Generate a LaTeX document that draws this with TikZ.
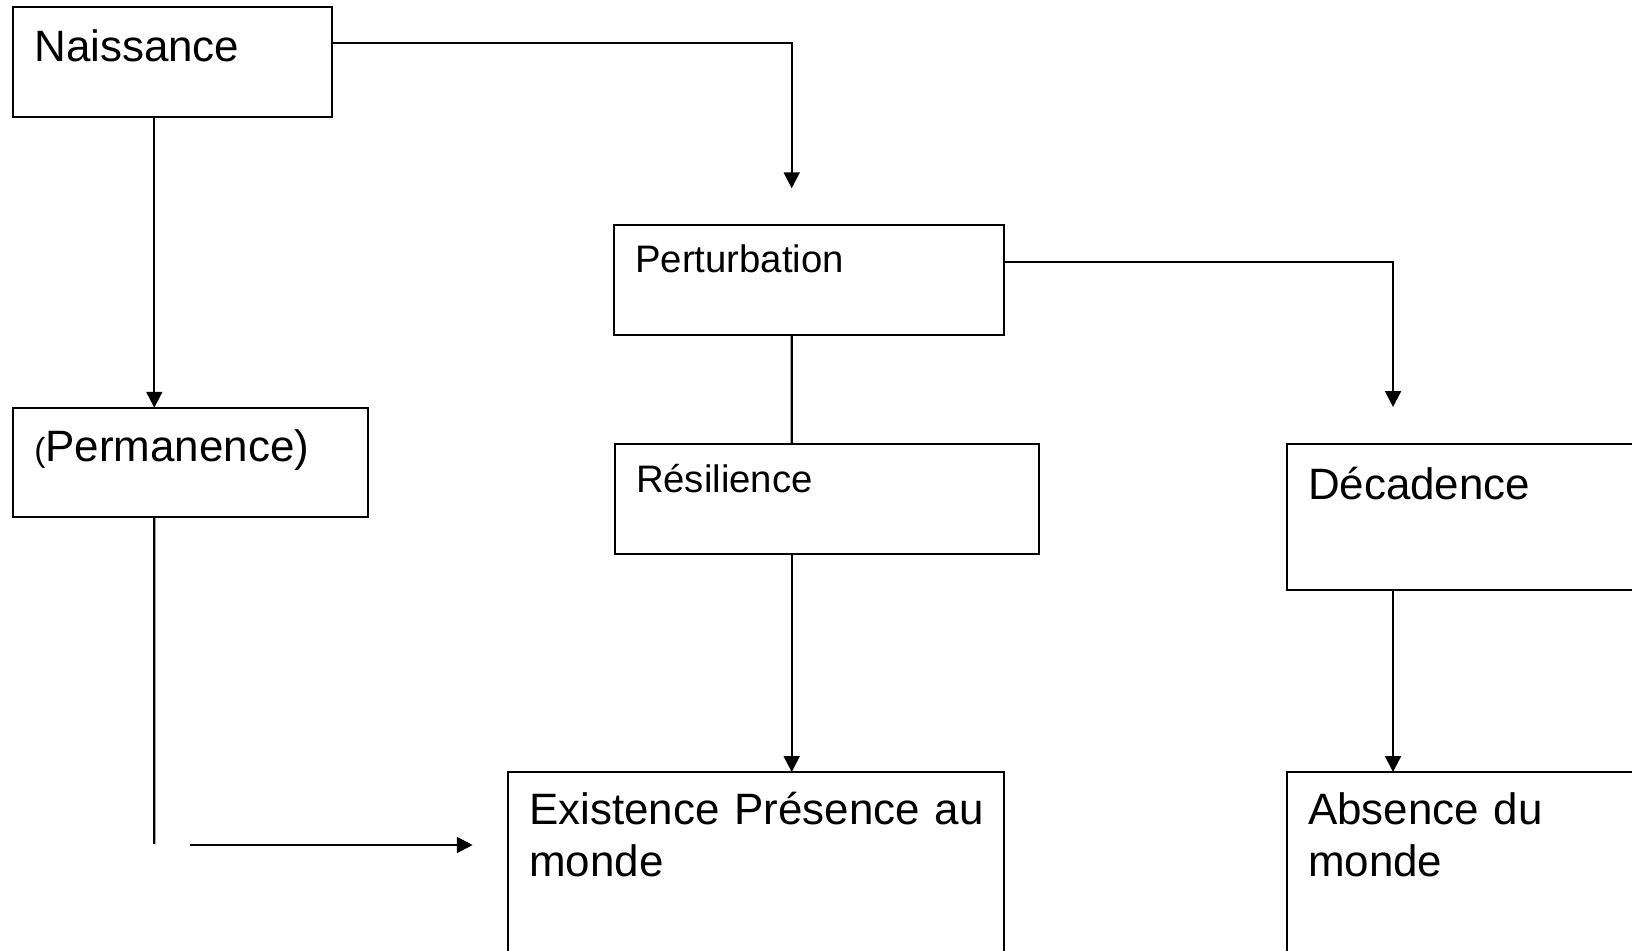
\documentclass[tikz,border=0pt]{standalone}
\usepackage{fontspec}
\setmainfont{Liberation Sans}
\usepackage{tikz}
\usetikzlibrary{arrows.meta, positioning}

\newcommand{\bigtxt}{\fontsize{12.5}{14.8}\selectfont}
\newcommand{\smalltxt}{\fontsize{10.9}{13}\selectfont}

\begin{document}
\begin{tikzpicture}[
    line width=0.6pt,
    >={Triangle[length=4.5pt, width=4.5pt]},
    box/.style={draw, rectangle, anchor=north west, align=left,
                inner xsep=0.21cm, inner ysep=0pt, outer sep=0pt, font=\bigtxt},
    smallbox/.style={box, font=\smalltxt}
]
  \useasboundingbox (0,0) rectangle (16.32,-9.51);

  % Boxes
  \node[box, text width=2.764cm, text height=0.55cm, text depth=0.55cm]
    (nais) at (0.133,-0.067) {Naissance};
  \node[box, text width=3.124cm, text height=0.54cm, text depth=0.553cm]
    (perm) at (0.133,-4.077) {{\fontsize{9.5}{12}\selectfont(}Permanence)};
  \node[smallbox, text width=3.48cm, text height=0.477cm, text depth=0.623cm]
    (pert) at (6.143,-2.25) {Perturbation};
  \node[smallbox, text width=3.82cm, text height=0.49cm, text depth=0.61cm]
    (resil) at (6.15,-4.44) {Résilience};
  \node[box, text width=3.58cm, text height=0.556cm, text depth=0.904cm]
    (deca) at (12.87,-4.44) {Décadence};
  \node[box, text width=4.54cm, text height=0.52cm, text depth=1.5cm]
    (exist) at (5.083,-7.72) {\mbox{Existence Présence au}\\monde};
  \node[box, text width=3.58cm, text height=0.52cm, text depth=1.5cm]
    (absen) at (12.87,-7.72) {Absence du\\monde};

  % Free ends
  \coordinate (tipA) at (7.917,-1.883);
  \coordinate (tipB) at (13.93,-4.07);
  \coordinate (permEnd) at (1.543,-8.44);
  \coordinate (gapL) at (1.90,-8.45);
  \coordinate (gapR) at (4.727,-8.45);

  % Naissance
  \draw[->] ([yshift=-0.366cm]nais.north east) -| (tipA);
  \draw[->] ([xshift=1.41cm]nais.south west) -- ([xshift=1.41cm]perm.north west);

  % Permanence
  \draw ([xshift=1.41cm]perm.south west) -- (permEnd);
  \draw[->] (gapL) -- (gapR);

  % Perturbation
  \draw[->] ([yshift=-0.373cm]pert.north east) -| (tipB);
  \draw ([xshift=1.774cm]pert.south west) -- ([xshift=1.767cm]resil.north west);

  % Resilience and Decadence
  \draw[->] ([xshift=1.767cm]resil.south west) -- ([xshift=2.834cm]exist.north west);
  \draw[->] ([xshift=1.06cm]deca.south west) -- ([xshift=1.06cm]absen.north west);
\end{tikzpicture}
\end{document}
